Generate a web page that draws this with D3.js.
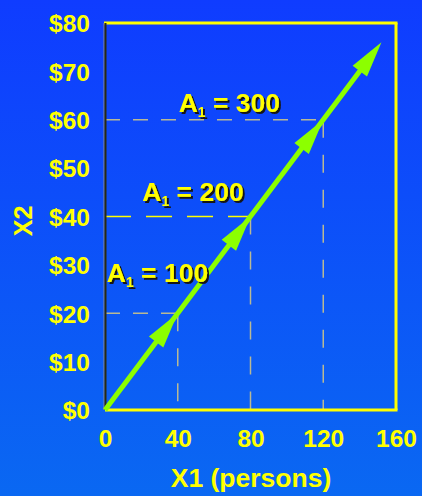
<!DOCTYPE html>
<html>
<head>
<meta charset="utf-8">
<script src="https://cdn.jsdelivr.net/npm/d3@7"></script>
<style>
  html, body { margin: 0; padding: 0; background: #0d4cfb; }
  svg { display: block; }
  text { font-family: "Liberation Sans", Arial, sans-serif; font-weight: bold; }
</style>
</head>
<body>
<svg id="chart" width="422" height="496"></svg>
<script>
// Axis ticks
const xTicks = [0, 40, 80, 120, 160];
const yTicks = [0, 10, 20, 30, 40, 50, 60, 70, 80];

// Expansion path: persons (X1) against dollars (X2)
const pathStart = [0, 0];
const pathEnd = [152, 76];

// Points on the path where each output level A1 is reached
const levelX1 = [40, 80, 120];
const levelX2 = [20, 40, 60];
const levelA1 = [100, 200, 300];

const W = 422, H = 496;
const plot = { left: 105, right: 396, top: 23, bottom: 410 };

const svg = d3.select("#chart");

// Background gradient and label shadow
const defs = svg.append("defs");
const grad = defs.append("linearGradient")
  .attr("id", "bg").attr("x1", 0).attr("y1", 0).attr("x2", 0).attr("y2", 1);
grad.append("stop").attr("offset", "0%").attr("stop-color", "#0f3cff");
grad.append("stop").attr("offset", "100%").attr("stop-color", "#0a68f2");
const shadow = defs.append("filter").attr("id", "shadow")
  .attr("x", "-10%").attr("y", "-20%").attr("width", "130%").attr("height", "150%");
shadow.append("feDropShadow").attr("dx", 2).attr("dy", 2).attr("stdDeviation", 0.4)
  .attr("flood-color", "#141414").attr("flood-opacity", 1);
svg.append("rect").attr("width", W).attr("height", H).attr("fill", "url(#bg)");

const x = d3.scaleLinear().domain([0, 160]).range([plot.left, plot.right]);
const y = d3.scaleLinear().domain([0, 80]).range([plot.bottom, plot.top]);

const yellow = "#ffff00";
const guideGrey = "#b9b994";

// Guide lines from each level point back to the axes
levelX1.forEach((lx, i) => {
  const ly = levelX2[i];
  const isMid = i === 1;
  svg.append("line")
    .attr("x1", x(0)).attr("x2", x(lx))
    .attr("y1", y(ly)).attr("y2", y(ly))
    .attr("stroke", isMid ? yellow : guideGrey)
    .attr("stroke-width", 1.5)
    .attr("stroke-dasharray", isMid ? "26,15" : "15,13");
  svg.append("line")
    .attr("x1", x(lx)).attr("x2", x(lx))
    .attr("y1", y(ly)).attr("y2", y(0))
    .attr("stroke", guideGrey)
    .attr("stroke-width", 1.5)
    .attr("stroke-dasharray", "18,17");
});

// Plot frame
svg.append("line").attr("x1", x(0) - 1).attr("x2", x(160) + 1.5)
  .attr("y1", y(80)).attr("y2", y(80)).attr("stroke", yellow).attr("stroke-width", 3);
svg.append("line").attr("x1", x(160)).attr("x2", x(160))
  .attr("y1", y(80)).attr("y2", y(0)).attr("stroke", yellow).attr("stroke-width", 3);
svg.append("line").attr("x1", x(0)).attr("x2", x(160) + 1.5)
  .attr("y1", y(0)).attr("y2", y(0)).attr("stroke", yellow).attr("stroke-width", 3);
svg.append("line").attr("x1", x(0) - 1).attr("x2", x(0) - 1)
  .attr("y1", y(80)).attr("y2", y(0)).attr("stroke", "#8a8a9a").attr("stroke-width", 1);
svg.append("line").attr("x1", x(0) + 0.5).attr("x2", x(0) + 0.5)
  .attr("y1", y(80)).attr("y2", y(0)).attr("stroke", "#2a2a10").attr("stroke-width", 2);

// Y axis labels
const yAxis = d3.axisLeft(y).tickValues(yTicks).tickSize(0).tickPadding(15)
  .tickFormat(d => "$" + d);
svg.append("g").attr("transform", `translate(${plot.left},0)`).call(yAxis)
  .call(g => g.select(".domain").remove())
  .selectAll("text")
  .attr("fill", yellow).attr("font-size", 24.5)
  .attr("font-family", "'Liberation Sans', Arial, sans-serif")
  .attr("font-weight", "bold")
  .attr("dy", "0.36em");

// X axis labels
const xAxis = d3.axisBottom(x).tickValues(xTicks).tickSize(0).tickPadding(20);
svg.append("g").attr("transform", `translate(0,${plot.bottom})`).call(xAxis)
  .call(g => g.select(".domain").remove())
  .selectAll("text")
  .attr("fill", yellow).attr("font-size", 24.5)
  .attr("font-family", "'Liberation Sans', Arial, sans-serif")
  .attr("font-weight", "bold");

// Axis titles
svg.append("text")
  .attr("x", 251).attr("y", 487)
  .attr("text-anchor", "middle").attr("fill", yellow).attr("font-size", 26.5)
  .text("X1 (persons)");
svg.append("text")
  .attr("transform", "translate(32,221) rotate(-90)")
  .attr("text-anchor", "middle").attr("fill", yellow).attr("font-size", 25)
  .text("X2");

// Expansion path with arrowheads
const green = "#8cff00";
const p0 = [x(pathStart[0]), y(pathStart[1])];
const p1 = [x(pathEnd[0]), y(pathEnd[1])];
const len = Math.hypot(p1[0] - p0[0], p1[1] - p0[1]);
const u = [(p1[0] - p0[0]) / len, (p1[1] - p0[1]) / len];
const n = [-u[1], u[0]];
const headLen = 36, headHalf = 9;

svg.append("line")
  .attr("x1", p0[0]).attr("y1", p0[1])
  .attr("x2", p1[0] - u[0] * 20).attr("y2", p1[1] - u[1] * 20)
  .attr("stroke", green).attr("stroke-width", 5);

function head(tip) {
  const b = [tip[0] - u[0] * headLen, tip[1] - u[1] * headLen];
  return [tip, [b[0] + n[0] * headHalf, b[1] + n[1] * headHalf],
          [b[0] - n[0] * headHalf, b[1] - n[1] * headHalf]];
}
const tips = levelX1.map((lx, i) => [x(lx), y(levelX2[i])]).concat([p1]);
svg.selectAll("polygon.head").data(tips).join("polygon")
  .attr("class", "head")
  .attr("points", d => head(d).map(p => p.join(",")).join(" "))
  .attr("fill", green);

// Output level labels, placed in data coordinates beside each guide
const labelAt = [[1, 26.5], [20.5, 43.3], [40.5, 61.5]];
levelA1.forEach((a, i) => {
  const [lx, ly] = labelAt[i];
  const t = svg.append("text")
    .attr("x", x(lx)).attr("y", y(ly))
    .attr("fill", yellow).attr("font-size", 26.5)
    .attr("filter", "url(#shadow)");
  t.append("tspan").text("A");
  t.append("tspan").attr("font-size", 14).attr("dy", 5).text("1");
  t.append("tspan").attr("dy", -5).text(" = " + a);
});
</script>
</body>
</html>
